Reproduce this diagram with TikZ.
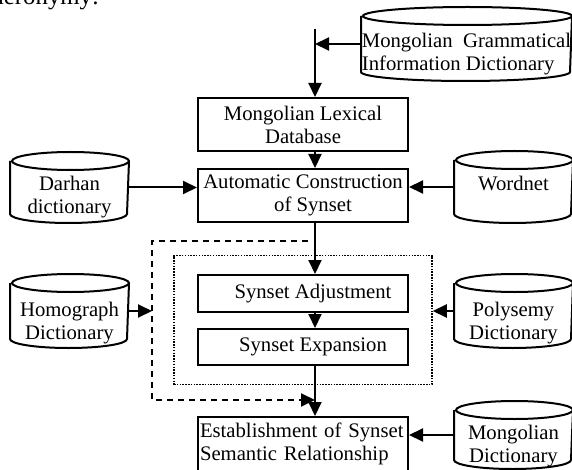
\documentclass[tikz,border=0pt]{standalone}
\usepackage{fontspec}
\setmainfont{Liberation Serif}
\usetikzlibrary{arrows.meta,positioning,fit}
\newcommand{\dbshape}[2]{%
  \draw ([yshift=-9pt]#1.north west) -- ([yshift=9pt]#1.south west)
    arc[start angle=180, end angle=360, x radius=#2, y radius=9pt]
    -- ([yshift=-9pt]#1.north east)
    arc[start angle=0, end angle=360, x radius=#2, y radius=9pt];}
\tikzset{
  box/.style={draw, minimum width=210pt, inner sep=0pt, align=center},
  db/.style={minimum width=117pt, inner sep=0pt},
  dbtext/.style={inner sep=0pt, align=center},
  >={Triangle[length=14pt,width=13pt]}
}
\begin{document}
\begin{tikzpicture}[x=1pt, y=1pt, line width=2pt, font=\fontsize{20.7}{23}\selectfont]
\clip (0,0) rectangle (572,-470);
\node[anchor=base east, inner sep=0pt, font=\fontsize{24.8}{28}\selectfont] (mero) at (100,-5) {meronymy:};

\node[box, minimum height=53pt] (lex) at (303,-124.5) {Mongolian Lexical\\Database};
\node[box, minimum height=53pt] (auto) at (303,-195.5) {Automatic Construction\\\hspace*{20pt}of Synset};
\node[box, minimum height=37pt] (adj) at (303,-293.5) {\hspace*{20pt}Synset Adjustment};
\node[box, minimum height=36pt] (exp) at (303,-347) {\hspace*{20pt}Synset Expansion};
\node[box, minimum height=54pt, text width=206pt, align=left, inner xsep=2pt] (est) at (303,-444) {Establishment of Synset\\Semantic Relationship};

\node[db, minimum width=209pt, minimum height=72pt] (mgid) at (466.5,-44) {};
\node[db, minimum height=69pt] (darhan) at (69.5,-187.5) {};
\node[db, minimum height=70pt] (wordnet) at (513.5,-187) {};
\node[db, minimum height=72pt] (homo) at (69.5,-311) {};
\node[db, minimum height=72pt] (poly) at (513.5,-311) {};
\node[db, minimum height=66pt] (mdict) at (513.5,-435) {};
\dbshape{mgid}{104.5pt}
\dbshape{darhan}{58.5pt}
\dbshape{wordnet}{58.5pt}
\dbshape{homo}{58.5pt}
\dbshape{poly}{58.5pt}
\dbshape{mdict}{58.5pt}
\node[dbtext, align=left, below=25pt of mgid.north] (mgid-t) {Mongolian\ \ Grammatical\\Information Dictionary};
\node[dbtext, below=23pt of darhan.north] (darhan-t) {Darhan\\dictionary};
\node[dbtext, below=24pt of wordnet.north] (wordnet-t) {Wordnet};
\node[dbtext, below=27pt of homo.north] (homo-t) {Homograph\\Dictionary};
\node[dbtext, below=27pt of poly.north] (poly-t) {Polysemy\\Dictionary};
\node[dbtext, below=23pt of mdict.north] (mdict-t) {Mongolian\\Dictionary};

\node[fit=(adj)(exp), inner xsep=23pt, inner ysep=18.5pt, draw, line width=1.5pt, dash pattern=on 1.5pt off 1.3pt] (grp) {};

\coordinate (spine) at (315,-29);
\draw[->] (spine) -- (lex.north -| spine);
\draw[->] (mgid.west) -- (mgid.west -| spine);
\draw[->] (lex.south -| spine) -- (auto.north -| spine);
\draw[->] (darhan.east) -- (darhan.east -| auto.west);
\draw[->] (wordnet.west) -- (wordnet.west -| auto.east);
\draw[->] (auto.south -| spine) -- (adj.north -| spine);
\draw[->] (adj.south -| spine) -- (exp.north -| spine);
\draw[->] (exp.south -| spine) -- (est.north -| spine);

\coordinate (fbstart) at (308,-241);
\coordinate (fbcorner) at (152,-241);
\coordinate (fbend) at (315,-400);
\draw[->, dash pattern=on 6pt off 5pt] (fbstart) -- (fbcorner) |- (fbend);
\draw[->] (homo.east) -- (homo.east -| fbcorner);
\draw[->] (poly.west) -- (poly.west -| grp.east);
\draw[->] (mdict.west) -- (mdict.west -| est.east);
\end{tikzpicture}
\end{document}
